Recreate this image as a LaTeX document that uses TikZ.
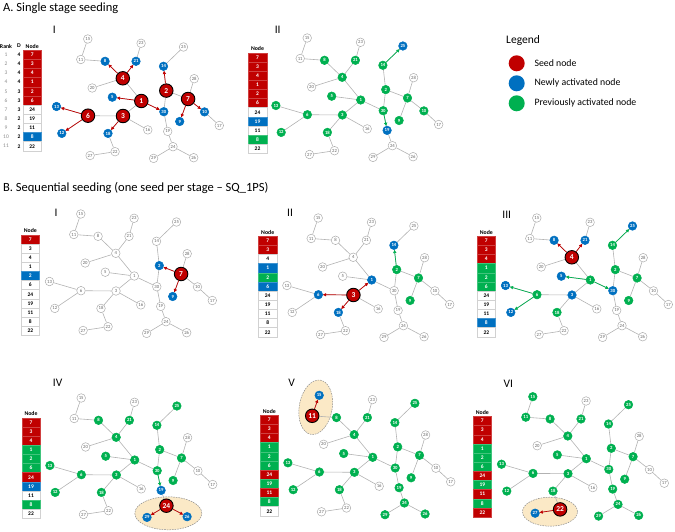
\documentclass[tikz,border=0pt]{standalone}
\usepackage{fontspec}
\setmainfont{Carlito}
\usetikzlibrary{arrows.meta,shapes.geometric}
\pgfdeclarelayer{ell}
\pgfdeclarelayer{edges}
\pgfsetlayers{ell,edges,main}
\definecolor{cred}{HTML}{C00000}
\definecolor{cblue}{HTML}{0070C0}
\definecolor{cgreen}{HTML}{00B050}
\definecolor{cream}{HTML}{FBE9C6}
\newcommand\myfs[1]{\fontsize{#1}{#1}\selectfont}
\ExplSyntaxOn
\int_step_inline:nnn {1}{30}{\tikzset{c#1/.style={}}}
\NewDocumentCommand\setnodes{mm}{\clist_map_inline:nn {#2}{\tikzset{c##1/.style={#1}}}}
\ExplSyntaxOff
\newcommand\netw[1]{%
 \foreach \n/\px/\py in {1/0/0, 2/25/-10.4, 3/-18.3/15, 4/-18.5/-22.7, 5/-29/-3.8,
   6/-53.3/14.7, 7/46.8/-2, 8/-36.2/-39.7, 9/38.4/20.5, 10/63.2/10.9,
   11/-60.5/-41.5, 12/-79.5/32.4, 13/-84.8/5.5, 14/22.2/-34.7, 15/-53.5/-62,
   16/6.5/28.9, 17/78/24.5, 18/-33.3/32.4, 19/26.4/30.4, 20/-49.1/-13,
   21/-5.3/-39.7, 22/-26.2/50.7, 23/-0.2/-57.7, 24/31.7/45.7, 25/42.2/-54,
   26/52.4/56.7, 27/-51.2/54.5, 28/52.9/-22.3, 29/12.3/57.4, 30/22.5/10.7}
  {\node[nd,c\n] (#1-\n) at (\px,\py) {\n};}
 \begin{pgfonlayer}{edges}
 \foreach \a/\b in {15/11, 11/8, 8/4, 23/21, 21/4, 4/20, 4/1, 5/1, 1/3, 1/30,
   3/6, 6/13, 6/12, 3/18, 3/16, 18/22, 22/27, 30/2, 2/14, 14/25, 2/7, 7/28,
   7/10, 10/17, 7/9, 30/19, 19/24, 24/29, 24/26}
  {\draw[edge] (#1-\a) -- (#1-\b);}
 \end{pgfonlayer}}
\newcommand\ntable[4]{%
 \node[hdr] (#1-h) at (#2,#3-8.6) {Node};
 \foreach \c/\t [count=\i] in {#4} {\node[\c] (#1-\i) at (#2,{#3+(\i-1)*9.15}) {\t};}}
\begin{document}
\begin{tikzpicture}[x=1pt,y=-1pt,
  nd/.style={circle, draw=black!32, fill=white, line width=0.5pt, minimum size=8.6pt,
    inner sep=0pt, text=black!60, font=\myfs{4.7}},
  bn/.style={fill=cblue, draw=cblue, text=white, font=\myfs{4.7}\bfseries},
  gn/.style={fill=cgreen, draw=cgreen, text=white, font=\myfs{4.7}\bfseries},
  seed/.style={fill=cred, draw=black, line width=0.9pt, minimum size=13.5pt,
    text=white, font=\myfs{7.5}\bfseries},
  edge/.style={draw=black!30, line width=0.6pt},
  rarr/.style={draw=cred, line width=0.7pt, -{Triangle[length=3.2pt,width=3.2pt]}},
  garr/.style={draw=cgreen, line width=0.7pt, -{Triangle[length=3.2pt,width=3.2pt]}},
  cell/.style={rectangle, minimum width=18.5pt, minimum height=9.15pt, inner sep=0pt,
    line width=0.4pt, font=\myfs{5.5}\bfseries},
  cr/.style={cell, fill=cred, draw=cred!75!white, text=white},
  cw/.style={cell, fill=white, draw=black!18, text=black},
  cb/.style={cell, fill=cblue, draw=cblue!75!white, text=white},
  cg/.style={cell, fill=cgreen, draw=cgreen!75!white, text=white},
  hdr/.style={inner sep=0pt, font=\myfs{5.8}\bfseries},
  rk/.style={inner sep=0pt, font=\myfs{5.5}, text=black!45},
  dd/.style={inner sep=0pt, font=\myfs{5.5}\bfseries},
  plab/.style={inner sep=0pt, font=\myfs{11.5}},
  ttl/.style={inner sep=0pt, anchor=west, font=\myfs{12.5}},
  hl/.style={ellipse, draw=black!45, dash pattern=on 1.6pt off 1pt, fill=cream,
    line width=0.5pt, inner sep=0pt},
  lgc/.style={circle, minimum size=16pt, inner sep=0pt, draw=none},
  lgt/.style={inner sep=0pt, anchor=west, font=\myfs{9.8}}]
\useasboundingbox (0,0) rectangle (675,532);
% titles
\node[ttl] (ta) at (3,8) {A. Single stage seeding};
\node[ttl] (tb) at (3,188.5) {B. Sequential seeding (one seed per stage -- SQ\_1PS)};
% legend
\node[inner sep=0pt, anchor=west, font=\myfs{11.5}] (lg) at (506,40) {Legend};
\node[lgc, fill=cred] (l1) at (516.7,63.3) {};
\node[lgc, fill=cblue] (l2) at (516.7,83.3) {};
\node[lgc, fill=cgreen] (l3) at (516.7,103.3) {};
\node[lgt] (l1t) at (534.3,63.3) {Seed node};
\node[lgt] (l2t) at (534.3,83.3) {Newly activated node};
\node[lgt] (l3t) at (534.3,103.3) {Previously activated node};
% panel labels
\node[plab] (pa1) at (54.3,29.5) {I};
\node[plab] (pa2) at (277.7,30) {II};
\node[plab] (pb1) at (56,213.3) {I};
\node[plab] (pb2) at (290,212.7) {II};
\node[plab] (pb3) at (506.7,215) {III};
\node[plab] (pb4) at (57.7,383.3) {IV};
\node[plab] (pb5) at (291.7,382.7) {V};
\node[plab] (pb6) at (508.3,384.3) {VI};
% ===== A-I =====
\node[hdr] (rkh) at (6,46) {Rank};
\node[hdr] (ddh) at (19,46) {D};
\foreach \d [count=\i] in {4,4,4,4,3,3,3,2,2,2,2}
  {\node[rk] (rk\i) at (6,{54.7+(\i-1)*9.15}) {\i};
   \node[dd] (dd\i) at (19,{54.7+(\i-1)*9.15}) {\d};}
\ntable{ait}{32.2}{54.7}{cr/7,cr/3,cr/4,cr/1,cr/2,cr/6,cw/24,cw/19,cw/11,cb/8,cw/22}
\begin{scope}[shift={(141.3,101)}]
\setnodes{seed}{7,3,4,1,2,6}
\setnodes{bn}{8,21,14,5,30,9,10,13,12,18}
\netw{ai}
\end{scope}
\foreach \a/\b in {4/8,4/21,2/14,1/5,1/30,7/9,7/10,6/13,6/12,3/18}
  {\draw[rarr] (ai-\a) -- (ai-\b);}
% ===== A-II =====
\ntable{aiit}{257.5}{57.3}{cr/7,cr/3,cr/4,cr/1,cr/2,cr/6,cw/24,cb/19,cw/11,cg/8,cw/22}
\begin{scope}[shift={(360.7,100)}]
\setnodes{gn}{8,21,4,14,2,7,5,1,30,10,13,6,3,9,18,12}
\setnodes{bn}{25,19}
\netw{aii}
\end{scope}
\draw[garr] (aii-14) -- (aii-25);
\draw[garr] (aii-30) -- (aii-19);
% ===== B-I =====
\ntable{bit}{30.3}{239.3}{cr/7,cw/3,cw/4,cw/1,cb/2,cw/6,cw/24,cw/19,cw/11,cw/8,cw/22}
\begin{scope}[shift={(134.3,276)}]
\setnodes{seed}{7}
\setnodes{bn}{2,9}
\netw{bi}
\end{scope}
\draw[rarr] (bi-7) -- (bi-2);
\draw[rarr] (bi-7) -- (bi-9);
% ===== B-II =====
\ntable{biit}{267.7}{240.7}{cr/7,cr/3,cw/4,cb/1,cg/2,cb/6,cw/24,cw/19,cw/11,cw/8,cw/22}
\begin{scope}[shift={(371.7,280)}]
\setnodes{seed}{3}
\setnodes{gn}{2,7,9}
\setnodes{bn}{14,1,6,18}
\netw{bii}
\end{scope}
\draw[rarr] (bii-3) -- (bii-1);
\draw[rarr] (bii-3) -- (bii-6);
\draw[rarr] (bii-3) -- (bii-18);
\draw[garr] (bii-2) -- (bii-14);
% ===== B-III =====
\ntable{biiit}{486.3}{240.7}{cr/7,cr/3,cr/4,cg/1,cg/2,cg/6,cw/24,cw/19,cw/11,cb/8,cw/22}
\begin{scope}[shift={(590.3,280)}]
\setnodes{seed}{4}
\setnodes{gn}{14,2,7,9,1,6,18}
\setnodes{bn}{8,21,25,5,30,13,12,3}
\netw{biii}
\end{scope}
\draw[rarr] (biii-4) -- (biii-8);
\draw[rarr] (biii-4) -- (biii-21);
\foreach \a/\b in {14/25,1/5,1/30,6/13,6/12} {\draw[garr] (biii-\a) -- (biii-\b);}
% ===== B-IV =====
\ntable{bivt}{31}{422.3}{cr/7,cr/3,cr/4,cg/1,cg/2,cg/6,cr/24,cb/19,cw/11,cg/8,cw/22}
\begin{pgfonlayer}{ell}
\node[hl, minimum width=67pt, minimum height=33pt] (e4) at (168.3,513.3) {};
\node[hl, minimum width=33pt, minimum height=55pt, rotate=-10] (e5) at (315.7,407.3) {};
\node[hl, minimum width=55pt, minimum height=29pt] (e6) at (550,511.7) {};
\end{pgfonlayer}
\begin{scope}[shift={(134.7,460)}]
\setnodes{seed}{24}
\setnodes{bn}{19,29,26}
\setnodes{gn}{25,8,21,14,4,2,7,5,1,30,13,6,3,9,12,18}
\netw{biv}
\end{scope}
\draw[rarr] (biv-24) -- (biv-29);
\draw[rarr] (biv-24) -- (biv-26);
\draw[garr] (biv-30) -- (biv-19);
% ===== B-V =====
\ntable{bvt}{269.3}{419.7}{cr/7,cr/3,cr/4,cg/1,cg/2,cg/6,cr/24,cg/19,cr/11,cg/8,cw/22}
\begin{scope}[shift={(372.7,457.3)}]
\setnodes{seed}{11}
\setnodes{bn}{15}
\setnodes{gn}{8,21,25,14,4,2,7,5,1,30,13,6,3,9,19,12,18,24,29,26}
\netw{bv}
\end{scope}
\draw[rarr] (bv-11) -- (bv-15);
% ===== B-VI =====
\ntable{bvit}{482.3}{421}{cr/7,cr/3,cr/4,cg/1,cg/2,cg/6,cr/24,cg/19,cr/11,cg/8,cr/22}
\begin{scope}[shift={(586.3,458.7)}]
\setnodes{seed}{22}
\setnodes{bn}{27}
\setnodes{gn}{15,11,8,21,25,14,4,2,7,5,1,30,13,6,3,9,19,12,18,24,29,26}
\netw{bvi}
\end{scope}
\draw[rarr] (bvi-22) -- (bvi-27);
\end{tikzpicture}
\end{document}
